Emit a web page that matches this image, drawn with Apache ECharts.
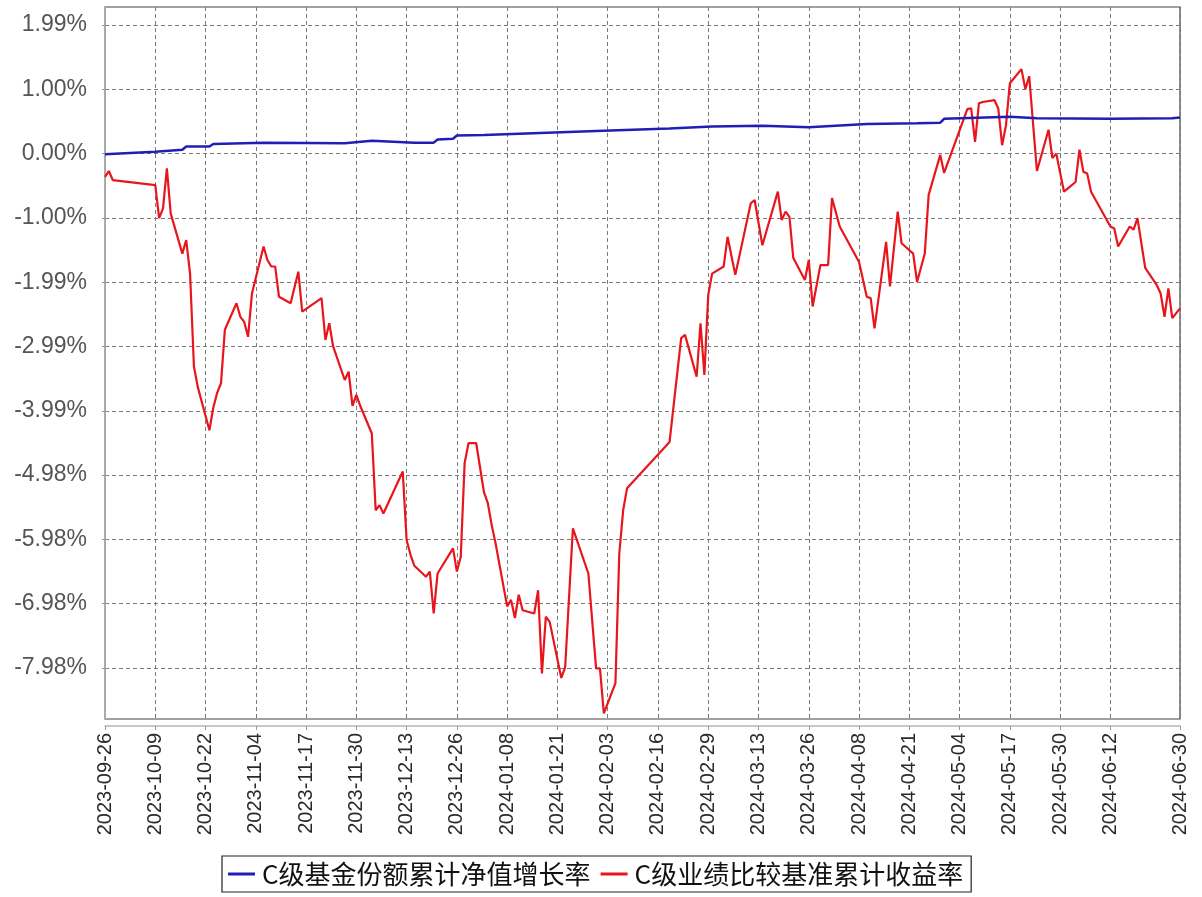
<!DOCTYPE html>
<html>
<head>
<meta charset="utf-8">
<script src="https://cdn.jsdelivr.net/npm/echarts@6/dist/echarts.min.js"></script>
<style>
html,body{margin:0;padding:0;background:#fff;}
#chart{width:1202px;height:897px;}
</style>
</head>
<body>
<div id="chart"></div>
<script>
// ---- data (values in %) ----
const seriesNames = ['C级基金份额累计净值增长率', 'C级业绩比较基准累计收益率'];

const blueDates = ['2023-09-26','2023-10-09','2023-10-16','2023-10-17','2023-10-23','2023-10-24','2023-11-06','2023-11-27','2023-12-04','2023-12-15','2023-12-20','2023-12-21','2023-12-25','2023-12-26','2024-01-02','2024-01-31','2024-02-19','2024-03-01','2024-03-14','2024-03-26','2024-04-10','2024-04-23','2024-04-29','2024-04-30','2024-05-17','2024-05-24','2024-06-12','2024-06-28','2024-06-30'];
const blueValues = [-0.01,0.03,0.06,0.11,0.11,0.15,0.17,0.16,0.20,0.17,0.17,0.22,0.23,0.28,0.29,0.35,0.39,0.42,0.43,0.41,0.46,0.47,0.48,0.54,0.57,0.55,0.54,0.55,0.56];

const redDates = ['2023-09-26','2023-09-27','2023-09-28','2023-10-09','2023-10-10','2023-10-11','2023-10-12','2023-10-13','2023-10-16','2023-10-17','2023-10-18','2023-10-19','2023-10-20','2023-10-23','2023-10-24','2023-10-25','2023-10-26','2023-10-27','2023-10-30','2023-10-31','2023-11-01','2023-11-02','2023-11-03','2023-11-06','2023-11-07','2023-11-08','2023-11-09','2023-11-10','2023-11-13','2023-11-15','2023-11-16','2023-11-21','2023-11-22','2023-11-23','2023-11-24','2023-11-27','2023-11-28','2023-11-29','2023-11-30','2023-12-01','2023-12-04','2023-12-05','2023-12-06','2023-12-07','2023-12-12','2023-12-13','2023-12-14','2023-12-15','2023-12-18','2023-12-19','2023-12-20','2023-12-21','2023-12-25','2023-12-26','2023-12-27','2023-12-28','2023-12-29','2023-12-31','2024-01-02','2024-01-03','2024-01-04','2024-01-05','2024-01-08','2024-01-09','2024-01-10','2024-01-11','2024-01-12','2024-01-15','2024-01-16','2024-01-17','2024-01-18','2024-01-19','2024-01-22','2024-01-23','2024-01-25','2024-01-29','2024-01-31','2024-02-01','2024-02-02','2024-02-05','2024-02-06','2024-02-07','2024-02-08','2024-02-19','2024-02-22','2024-02-23','2024-02-26','2024-02-27','2024-02-28','2024-02-29','2024-03-01','2024-03-04','2024-03-05','2024-03-07','2024-03-11','2024-03-12','2024-03-14','2024-03-18','2024-03-19','2024-03-20','2024-03-21','2024-03-22','2024-03-25','2024-03-26','2024-03-27','2024-03-29','2024-03-31','2024-04-01','2024-04-03','2024-04-08','2024-04-10','2024-04-11','2024-04-12','2024-04-15','2024-04-16','2024-04-18','2024-04-19','2024-04-22','2024-04-23','2024-04-25','2024-04-26','2024-04-29','2024-04-30','2024-05-06','2024-05-07','2024-05-08','2024-05-09','2024-05-10','2024-05-13','2024-05-14','2024-05-15','2024-05-16','2024-05-17','2024-05-20','2024-05-21','2024-05-22','2024-05-24','2024-05-27','2024-05-28','2024-05-29','2024-05-31','2024-06-03','2024-06-04','2024-06-05','2024-06-06','2024-06-07','2024-06-12','2024-06-13','2024-06-14','2024-06-17','2024-06-18','2024-06-19','2024-06-21','2024-06-24','2024-06-25','2024-06-26','2024-06-27','2024-06-28','2024-06-30'];
const redValues = [-0.36,-0.27,-0.41,-0.49,-1.00,-0.85,-0.23,-0.93,-1.55,-1.34,-1.86,-3.30,-3.62,-4.29,-3.94,-3.71,-3.56,-2.73,-2.32,-2.53,-2.61,-2.84,-2.17,-1.44,-1.65,-1.75,-1.75,-2.22,-2.32,-1.83,-2.45,-2.24,-2.89,-2.63,-2.99,-3.51,-3.38,-3.91,-3.74,-3.91,-4.34,-5.53,-5.45,-5.58,-4.93,-5.99,-6.22,-6.39,-6.56,-6.48,-7.13,-6.51,-6.12,-6.48,-6.25,-4.80,-4.49,-4.49,-5.25,-5.42,-5.76,-6.04,-7.02,-6.92,-7.20,-6.84,-7.08,-7.13,-6.77,-8.06,-7.18,-7.26,-8.13,-7.96,-5.81,-6.51,-7.98,-7.98,-8.68,-8.21,-6.20,-5.53,-5.19,-4.47,-2.86,-2.81,-3.46,-2.63,-3.43,-2.19,-1.86,-1.75,-1.29,-1.88,-0.77,-0.72,-1.42,-0.59,-1.03,-0.90,-0.98,-1.62,-1.96,-1.65,-2.37,-1.73,-1.73,-0.69,-1.13,-1.68,-2.22,-2.24,-2.71,-1.37,-2.06,-0.90,-1.39,-1.55,-1.99,-1.55,-0.64,-0.02,-0.30,0.69,0.70,0.18,0.78,0.80,0.83,0.70,0.13,0.44,1.09,1.31,1.00,1.20,-0.27,0.37,-0.07,0.00,-0.59,-0.44,0.06,-0.28,-0.31,-0.59,-1.13,-1.16,-1.44,-1.13,-1.18,-1.00,-1.77,-2.04,-2.17,-2.53,-2.09,-2.55,-2.40];

const yTickValues = [-7.9752,-6.9783,-5.9814,-4.9845,-3.9876,-2.9907,-1.9938,-0.9969,0,0.9969,1.9938];
const xTickLabels = ['2023-09-26','2023-10-09','2023-10-22','2023-11-04','2023-11-17','2023-11-30','2023-12-13','2023-12-26','2024-01-08','2024-01-21','2024-02-03','2024-02-16','2024-02-29','2024-03-13','2024-03-26','2024-04-08','2024-04-21','2024-05-04','2024-05-17','2024-05-30','2024-06-12','2024-06-30'];
const xRange = ['2023-09-26','2024-06-30'];
const yRange = [-8.766, 2.273];

// ---- helpers: dates -> calendar-day offset from the first date ----
function parts(s){ return s.split('-').map(Number); }
const p0 = parts(xRange[0]);
function dayIndex(s){ const p = parts(s); return Math.round((Date.UTC(p[0], p[1]-1, p[2]) - Date.UTC(p0[0], p0[1]-1, p0[2])) / 86400000); }
function pad(n){ return (n < 10 ? '0' : '') + n; }
function fmtDay(v){ const d = new Date(Date.UTC(p0[0], p0[1]-1, p0[2] + Math.round(v))); return d.getUTCFullYear() + '-' + pad(d.getUTCMonth()+1) + '-' + pad(d.getUTCDate()); }
function zip(dates, vals){ return dates.map((d,i) => [dayIndex(d), vals[i]]); }

const chart = echarts.init(document.getElementById('chart'), null, {renderer:'canvas'});
const gridLine = {show:true, lineStyle:{color:'#7a7a7a', width:1, type:[4,3]}};
const xTickPos = xTickLabels.map(dayIndex);
chart.setOption({
  animation:false,
  backgroundColor:'#ffffff',
  grid:{left:105, right:22, top:7, bottom:178, show:true, borderColor:'#444', borderWidth:1.2, backgroundColor:'#ffffff'},
  legend:{
    left:222, top:856, orient:'horizontal',
    data:[{name:seriesNames[0]},{name:seriesNames[1]}],
    icon:'rect', itemWidth:27, itemHeight:3, itemGap:10,
    borderColor:'#222', borderWidth:1.2, padding:[5,8,5,6],
    textStyle:{fontFamily:'Noto Sans CJK SC', fontSize:26, lineHeight:26, color:'#111', padding:[0,0,0,2]}
  },
  xAxis:{
    type:'value', min:dayIndex(xRange[0]), max:dayIndex(xRange[1]), offset:7,
    axisLine:{show:true, onZero:false, lineStyle:{color:'#b5b5b5', width:1.5}},
    axisTick:{show:true, length:4, lineStyle:{color:'#999'}, customValues:xTickPos},
    axisLabel:{show:true, rotate:90, margin:7, fontFamily:'Liberation Sans', fontSize:20, color:'#2a2a2a',
      customValues:xTickPos, formatter:fmtDay, hideOverlap:false, showMinLabel:true, showMaxLabel:true},
    splitLine:gridLine
  },
  yAxis:{
    type:'value', min:yRange[0], max:yRange[1], offset:6,
    axisLine:{show:true, lineStyle:{color:'#b5b5b5', width:1.5}},
    axisTick:{show:true, length:3, lineStyle:{color:'#999'}, customValues:yTickValues},
    axisLabel:{show:true, margin:12, fontFamily:'Liberation Sans', fontSize:23, color:'#555',
      customValues:yTickValues, formatter:v => v.toFixed(2) + '%'},
    splitLine:gridLine
  },
  series:[
    {name:seriesNames[1], type:'line', data:zip(redDates, redValues), showSymbol:false, symbol:'none',
      lineStyle:{color:'#e8161c', width:2.2}, itemStyle:{color:'#e8161c'}, z:2},
    {name:seriesNames[0], type:'line', data:zip(blueDates, blueValues), showSymbol:false, symbol:'none',
      lineStyle:{color:'#1f1fb8', width:2.5}, itemStyle:{color:'#1f1fb8'}, z:3}
  ]
});
</script>
</body>
</html>
